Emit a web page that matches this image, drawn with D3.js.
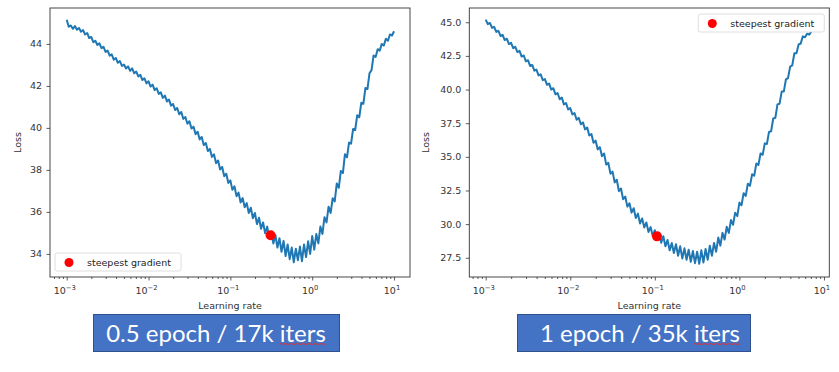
<!DOCTYPE html>
<html>
<head>
<meta charset="utf-8">
<script src="https://cdn.jsdelivr.net/npm/d3@7"></script>
<style>
  body { margin: 0; background: #fff; }
  svg { display: block; font-family: "DejaVu Sans", sans-serif; }
</style>
</head>
<body>
<svg id="chart" width="839" height="372"></svg>
<script>
// loss, one value every 0.025 decade of learning rate starting at 1e-3
const lossHalfEpoch = [
  45.15, 44.82, 44.88, 44.72, 44.85, 44.68, 44.76, 44.58, 44.66, 44.45,
  44.52, 44.28, 44.33, 44.08, 44.15, 43.95, 44.03, 43.80, 43.86, 43.62,
  43.68, 43.44, 43.50, 43.25, 43.33, 43.10, 43.18, 42.95, 43.02, 42.83,
  42.93, 42.72, 42.84, 42.60, 42.68, 42.45, 42.53, 42.28, 42.36, 42.12,
  42.22, 41.97, 42.06, 41.80, 41.89, 41.62, 41.69, 41.43, 41.54, 41.26,
  41.35, 41.06, 41.14, 40.85, 40.95, 40.65, 40.76, 40.43, 40.52, 40.20,
  40.32, 39.97, 40.06, 39.70, 39.82, 39.45, 39.57, 39.18, 39.28, 38.90,
  39.00, 38.62, 38.74, 38.32, 38.45, 38.02, 38.14, 37.70, 37.82, 37.38,
  37.50, 37.05, 37.22, 36.75, 36.92, 36.45, 36.66, 36.22, 36.42, 35.95,
  36.20, 35.70, 35.95, 35.42, 35.72, 35.20, 35.50, 34.98, 35.30, 34.75,
  35.05, 34.50, 34.90, 34.30, 34.75, 34.10, 34.62, 33.90, 34.45, 33.75,
  34.30, 33.60, 34.25, 33.70, 34.35, 33.65, 34.45, 33.85, 34.60, 34.00,
  34.85, 34.20, 34.95, 34.50, 35.30, 34.95, 35.75, 35.50, 36.25, 35.95,
  36.65, 36.50, 37.35, 37.15, 37.95, 37.85, 38.75, 38.60, 39.30, 39.25,
  39.95, 39.90, 40.60, 40.50, 41.20, 41.15, 41.90, 41.85, 42.60, 42.75,
  43.45, 43.38, 43.75, 43.68, 44.00, 43.92, 44.25, 44.15, 44.45, 44.40,
  44.60
];
const lossOneEpoch = [
  45.20, 44.86, 44.95, 44.58, 44.66, 44.28, 44.36, 43.98, 44.06, 43.68,
  43.78, 43.38, 43.47, 43.08, 43.17, 42.78, 42.88, 42.45, 42.53, 42.10,
  42.18, 41.75, 41.83, 41.40, 41.48, 41.05, 41.13, 40.70, 40.78, 40.35,
  40.44, 40.00, 40.10, 39.64, 39.74, 39.28, 39.40, 38.90, 39.00, 38.52,
  38.62, 38.15, 38.26, 37.76, 37.90, 37.42, 37.56, 37.04, 37.18, 36.58,
  36.70, 36.05, 36.20, 35.55, 35.72, 35.05, 35.25, 34.42, 34.55, 33.75,
  33.90, 33.10, 33.30, 32.45, 32.65, 31.85, 32.05, 31.30, 31.55, 30.85,
  31.18, 30.45, 30.78, 30.05, 30.42, 29.75, 30.12, 29.42, 29.78, 29.12,
  29.55, 28.90, 29.35, 28.62, 29.10, 28.35, 28.82, 28.05, 28.60, 27.85,
  28.50, 27.65, 28.35, 27.45, 28.20, 27.35, 28.10, 27.20, 28.00, 27.10,
  27.95, 27.05, 28.05, 27.15, 28.15, 27.35, 28.40, 27.65, 28.60, 27.95,
  29.00, 28.40, 29.35, 28.85, 29.80, 29.35, 30.30, 29.95, 30.85, 30.60,
  31.60, 31.40, 32.30, 32.10, 33.00, 32.85, 33.70, 33.60, 34.50, 34.40,
  35.25, 35.15, 36.00, 35.95, 36.85, 36.90, 37.85, 37.90, 38.90, 38.95,
  39.85, 39.85, 40.75, 40.85, 41.70, 41.80, 42.70, 42.70, 43.35, 43.42,
  43.95, 43.88, 44.15, 44.08, 44.30
];
const lrStartExp = -3;
const lrStepExp = 0.025;

const steepestLeft = { lr: 0.31, loss: 34.89 };
const steepestRight = { lr: 0.106, loss: 29.09 };

const xTickExps = [-3, -2, -1, 0, 1];
const yTicksLeft = [34, 36, 38, 40, 42, 44];
const yTicksRight = [27.5, 30, 32.5, 35, 37.5, 40, 42.5, 45];

const captions = ['0.5 epoch / 17k iters', '1 epoch / 35k iters'];

const lineColor = '#1f77b4';
const svg = d3.select('#chart');

const panels = [
  {
    loss: lossHalfEpoch, dot: steepestLeft,
    left: 50, right: 410, top: 8, bottom: 277,
    xDomain: [Math.pow(10, -3.204), Math.pow(10, 1.195)],
    yDomain: [32.9, 45.71],
    yTicks: yTicksLeft, yFmt: d3.format('d'), yTitleOffset: 29,
    legend: 'bottomleft',
    caption: captions[0], box: [93.5, 314.5, 246, 37], textX: 216
  },
  {
    loss: lossOneEpoch, dot: steepestRight,
    left: 469.3, right: 829.3, top: 8, bottom: 277,
    xDomain: [Math.pow(10, -3.194), Math.pow(10, 1.063)],
    yDomain: [26.07, 46.06],
    yTicks: yTicksRight, yFmt: d3.format('.1f'), yTitleOffset: 40,
    legend: 'topright',
    caption: captions[1], box: [517.5, 314.5, 233, 37], textX: 640
  }
];

panels.forEach(p => {
  const x = d3.scaleLog().domain(p.xDomain).range([p.left, p.right]);
  const y = d3.scaleLinear().domain(p.yDomain).range([p.bottom, p.top]);
  const g = svg.append('g');

  const points = p.loss.map((v, i) => ({
    lr: Math.pow(10, lrStartExp + i * lrStepExp),
    loss: v
  }));

  // curve
  g.append('path')
    .datum(points)
    .attr('fill', 'none')
    .attr('stroke', lineColor)
    .attr('stroke-width', 2)
    .attr('stroke-linejoin', 'round')
    .attr('d', d3.line().x(d => x(d.lr)).y(d => y(d.loss)));

  // steepest gradient marker
  g.append('circle')
    .attr('cx', x(p.dot.lr))
    .attr('cy', y(p.dot.loss))
    .attr('r', 5)
    .attr('fill', '#ff0000');

  // minor x ticks
  const minor = [];
  for (let e = -4; e <= 1; e++) {
    for (let m = 2; m <= 9; m++) {
      const v = m * Math.pow(10, e);
      if (v > p.xDomain[0] && v < p.xDomain[1]) minor.push(v);
    }
  }
  const xMinor = g.append('g')
    .attr('transform', `translate(0,${p.bottom})`)
    .call(d3.axisBottom(x).tickValues(minor).tickSize(2).tickFormat(''));
  xMinor.select('.domain').remove();
  xMinor.selectAll('line').attr('stroke', '#333').attr('stroke-width', 0.8);

  const majors = xTickExps.map(e => Math.pow(10, e));
  const xAxis = g.append('g')
    .attr('transform', `translate(0,${p.bottom})`)
    .call(d3.axisBottom(x).tickValues(majors).tickSize(3.5).tickFormat(''));
  xAxis.select('.domain').remove();
  xAxis.selectAll('line').attr('stroke', '#333').attr('stroke-width', 0.8);

  xTickExps.forEach(e => {
    const t = g.append('text')
      .attr('x', x(Math.pow(10, e)) - 2)
      .attr('y', p.bottom + 17)
      .attr('text-anchor', 'middle')
      .attr('font-size', 9.5)
      .attr('fill', '#333');
    t.append('tspan').text('10');
    t.append('tspan')
      .attr('font-size', 6.8)
      .attr('dy', -4.5)
      .text(e < 0 ? '\u2212' + Math.abs(e) : String(e));
  });

  const yAxis = g.append('g')
    .attr('transform', `translate(${p.left},0)`)
    .call(d3.axisLeft(y).tickValues(p.yTicks).tickSize(3.5).tickPadding(4.5).tickFormat(p.yFmt));
  yAxis.select('.domain').remove();
  yAxis.selectAll('line').attr('stroke', '#333').attr('stroke-width', 0.8);
  yAxis.selectAll('text')
    .attr('font-size', 9.5)
    .attr('font-family', '"DejaVu Sans", sans-serif')
    .attr('fill', '#333');

  // frame
  g.append('rect')
    .attr('x', p.left).attr('y', p.top)
    .attr('width', p.right - p.left).attr('height', p.bottom - p.top)
    .attr('fill', 'none').attr('stroke', '#333').attr('stroke-width', 0.9);

  // axis titles
  g.append('text')
    .attr('x', (p.left + p.right) / 2)
    .attr('y', p.bottom + 32)
    .attr('text-anchor', 'middle')
    .attr('font-size', 9.5)
    .attr('fill', '#333')
    .text('Learning rate');
  g.append('text')
    .attr('transform', `translate(${p.left - p.yTitleOffset},${(p.top + p.bottom) / 2}) rotate(-90)`)
    .attr('text-anchor', 'middle')
    .attr('font-size', 9.5)
    .attr('fill', '#333')
    .text('Loss');

  // legend
  const lw = 126, lh = 18;
  const lx = p.legend === 'bottomleft' ? p.left + 5 : p.right - 5 - lw;
  const ly = p.legend === 'bottomleft' ? p.bottom - 6 - lh : p.top + 6;
  const leg = g.append('g').attr('transform', `translate(${lx},${ly})`);
  leg.append('rect')
    .attr('width', lw).attr('height', lh).attr('rx', 2)
    .attr('fill', '#fff').attr('fill-opacity', 0.85)
    .attr('stroke', '#d6d6d6').attr('stroke-width', 0.8);
  leg.append('circle').attr('cx', 14).attr('cy', lh / 2 + 0.5).attr('r', 4.5).attr('fill', '#ff0000');
  leg.append('text')
    .attr('x', 32).attr('y', lh / 2 + 3.5)
    .attr('font-size', 9.5).attr('fill', '#222')
    .text('steepest gradient');

  // caption box
  const [bx, by, bw, bh] = p.box;
  svg.append('rect')
    .attr('x', bx).attr('y', by).attr('width', bw).attr('height', bh)
    .attr('fill', '#4472c4').attr('stroke', '#2f528f').attr('stroke-width', 1);
  const cap = svg.append('text')
    .attr('x', p.textX).attr('y', by + 27)
    .attr('text-anchor', 'middle')
    .attr('font-family', 'Lato, "Open Sans", sans-serif')
    .attr('font-size', 24)
    .attr('fill', '#fff')
    .text(p.caption);

  // spell-check squiggle under "iters"
  const node = cap.node();
  const idx = p.caption.indexOf('iters');
  const sx = node.getStartPositionOfChar(idx).x;
  const ex = node.getEndPositionOfChar(p.caption.length - 1).x;
  const sy = by + 29.5;
  let dPath = `M${sx},${sy}`;
  let up = true;
  for (let xx = sx + 1.5; xx <= ex; xx += 1.5) {
    dPath += `L${xx},${sy + (up ? -1 : 1)}`;
    up = !up;
  }
  svg.append('path')
    .attr('d', dPath)
    .attr('fill', 'none')
    .attr('stroke', '#e03030')
    .attr('stroke-width', 0.8);
});
</script>
</body>
</html>
